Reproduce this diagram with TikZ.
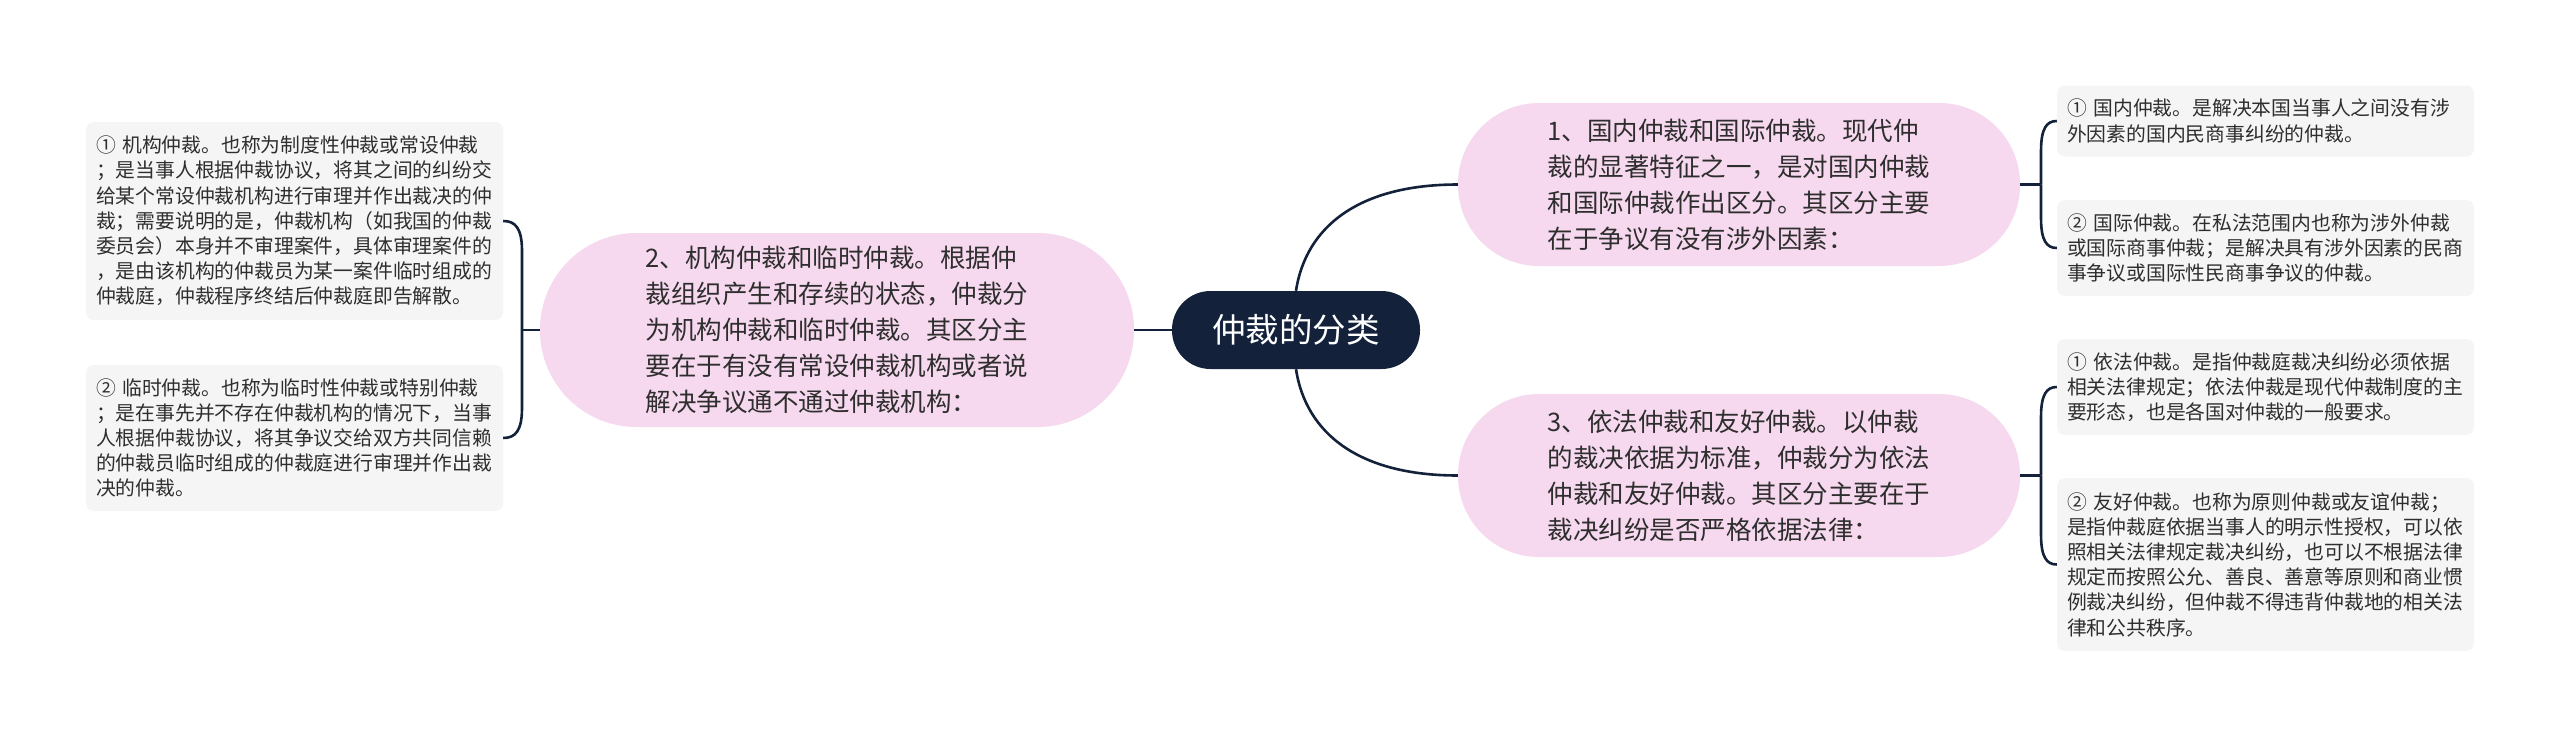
\documentclass[tikz,border=0pt]{standalone}
\usepackage{fontspec}
\setmainfont{Noto Sans CJK SC}
\usetikzlibrary{calc}
\definecolor{navy}{HTML}{13223A}
\definecolor{pinkfill}{HTML}{F6D9EE}
\definecolor{leafgray}{HTML}{F5F5F5}
\definecolor{txt}{HTML}{2E2E2E}
\begin{document}
\begin{tikzpicture}[x=1pt,y=-1pt,
  conn/.style={draw=navy, line width=2.6pt},
  rootbox/.style={fill=navy, text=white, rounded corners=38.5pt, minimum width=248pt, minimum height=78pt, inner sep=0pt, font=\fontsize{33.5}{40}\selectfont},
  branchbox/.style={fill=pinkfill, text=txt, align=left, inner sep=0pt, font=\fontsize{25.5}{36}\selectfont},
  leafbox/.style={fill=leafgray, text=txt, rounded corners=8pt, align=left, text width=397pt, minimum width=417pt, inner sep=0pt, font=\fontsize{19.8}{25.2}\selectfont}]
\fill[white] (0,0) rectangle (2560,737);
\useasboundingbox (0,0) rectangle (2560,737);

% root
\node[rootbox] (c) at (1296,330) {仲裁的分类};

% branches
\node[branchbox, minimum width=562pt, minimum height=163pt, rounded corners=81pt] (b1) at (1739,184.5)
  {1、国内仲裁和国际仲裁。现代仲\\裁的显著特征之一，是对国内仲裁\\和国际仲裁作出区分。其区分主要\\在于争议有没有涉外因素：};
\node[branchbox, minimum width=562pt, minimum height=163pt, rounded corners=81pt] (b3) at (1739,475.5)
  {3、依法仲裁和友好仲裁。以仲裁\\的裁决依据为标准，仲裁分为依法\\仲裁和友好仲裁。其区分主要在于\\裁决纠纷是否严格依据法律：};
\node[branchbox, minimum width=594pt, minimum height=194pt, rounded corners=96.5pt] (b2) at (837,330)
  {2、机构仲裁和临时仲裁。根据仲\\裁组织产生和存续的状态，仲裁分\\为机构仲裁和临时仲裁。其区分主\\要在于有没有常设仲裁机构或者说\\解决争议通不通过仲裁机构：};

% right leaves
\node[leafbox, minimum height=71pt] (r1) at (2265.5,121)
  {①~国内仲裁。是解决本国当事人之间没有涉\\外因素的国内民商事纠纷的仲裁。};
\node[leafbox, minimum height=96pt] (r2) at (2265.5,248)
  {②~国际仲裁。在私法范围内也称为涉外仲裁\\或国际商事仲裁；是解决具有涉外因素的民商\\事争议或国际性民商事争议的仲裁。};
\node[leafbox, minimum height=96pt] (r3) at (2265.5,387)
  {①~依法仲裁。是指仲裁庭裁决纠纷必须依据\\相关法律规定；依法仲裁是现代仲裁制度的主\\要形态，也是各国对仲裁的一般要求。};
\node[leafbox, minimum height=173pt] (r4) at (2265.5,564.5)
  {②~友好仲裁。也称为原则仲裁或友谊仲裁；\\是指仲裁庭依据当事人的明示性授权，可以依\\照相关法律规定裁决纠纷，也可以不根据法律\\规定而按照公允、善良、善意等原则和商业惯\\例裁决纠纷，但仲裁不得违背仲裁地的相关法\\律和公共秩序。};

% left leaves
\node[leafbox, minimum height=198pt] (l1) at (294.5,221)
  {①~机构仲裁。也称为制度性仲裁或常设仲裁\\；是当事人根据仲裁协议，将其之间的纠纷交\\给某个常设仲裁机构进行审理并作出裁决的仲\\裁；需要说明的是，仲裁机构（如我国的仲裁\\委员会）本身并不审理案件，具体审理案件的\\，是由该机构的仲裁员为某一案件临时组成的\\仲裁庭，仲裁程序终结后仲裁庭即告解散。};
\node[leafbox, minimum height=146pt] (l2) at (294.5,438)
  {②~临时仲裁。也称为临时性仲裁或特别仲裁\\；是在事先并不存在仲裁机构的情况下，当事\\人根据仲裁协议，将其争议交给双方共同信赖\\的仲裁员临时组成的仲裁庭进行审理并作出裁\\决的仲裁。};

% junctions
\coordinate (jL) at (522,330);
\coordinate (jR1) at (2041,184.5);
\coordinate (jR3) at (2041,475.5);

% root connectors
\draw[conn] (c.west) -- (b2.east);
\draw[conn] (c.north) .. controls +(10,-65) and +(-98,0) .. (b1.west);
\draw[conn] (c.south) .. controls +(10,65) and +(-98,0) .. (b3.west);

% left bracket
\draw[conn] (b2.west) -- (jL);
\draw[conn] (jL) -- ($(jL|-l1.east)+(0,30)$) .. controls ($(jL|-l1.east)+(0,7)$) and ($(l1.east)+(12,0)$) .. (l1.east);
\draw[conn] (jL) -- ($(jL|-l2.east)+(0,-30)$) .. controls ($(jL|-l2.east)+(0,-7)$) and ($(l2.east)+(12,0)$) .. (l2.east);

% right brackets
\draw[conn] (b1.east) -- (jR1);
\draw[conn] (jR1) -- ($(jR1|-r1.west)+(0,30)$) .. controls ($(jR1|-r1.west)+(0,7)$) and ($(r1.west)+(-10,0)$) .. (r1.west);
\draw[conn] (jR1) -- ($(jR1|-r2.west)+(0,-30)$) .. controls ($(jR1|-r2.west)+(0,-7)$) and ($(r2.west)+(-10,0)$) .. (r2.west);
\draw[conn] (b3.east) -- (jR3);
\draw[conn] (jR3) -- ($(jR3|-r3.west)+(0,30)$) .. controls ($(jR3|-r3.west)+(0,7)$) and ($(r3.west)+(-10,0)$) .. (r3.west);
\draw[conn] (jR3) -- ($(jR3|-r4.west)+(0,-30)$) .. controls ($(jR3|-r4.west)+(0,-7)$) and ($(r4.west)+(-10,0)$) .. (r4.west);
\end{tikzpicture}
\end{document}
